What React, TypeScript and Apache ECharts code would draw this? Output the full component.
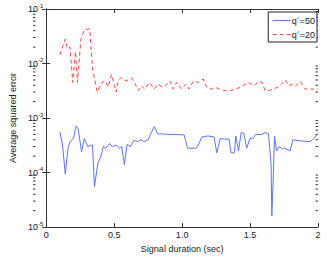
import React, { useEffect, useRef } from "react";
import * as echarts from "echarts";

const q50Durations = [
  0.1, 0.12, 0.14, 0.16, 0.175, 0.2, 0.22, 0.235, 0.26, 0.28, 0.305, 0.33, 0.34, 0.355, 0.38,
  0.4, 0.42, 0.44, 0.465, 0.49, 0.515, 0.54, 0.555, 0.575, 0.595, 0.62, 0.645, 0.67, 0.7, 0.72,
  0.75, 0.77, 0.795, 0.82, 0.865, 0.91, 0.96, 1.015, 1.04, 1.1, 1.115, 1.145, 1.19, 1.235, 1.255,
  1.28, 1.32, 1.345, 1.36, 1.385, 1.395, 1.415, 1.435, 1.455, 1.475, 1.5, 1.525, 1.54, 1.585, 1.61,
  1.635, 1.655, 1.66, 1.67, 1.68, 1.695, 1.715, 1.735, 1.755, 1.795, 1.815, 1.87, 1.94, 1.96, 2.0,
];
const q50Errors = [
  0.00056, 0.00032, 0.000094, 0.00028, 0.00037, 0.00042, 0.00072, 0.00063, 0.00024, 0.00042,
  0.0003, 0.00032, 0.00032, 0.000055, 0.00015, 0.00019, 0.0003, 0.00028, 0.00034, 0.0003,
  0.00032, 0.00028, 0.0003, 0.00014, 0.00033, 0.0003, 0.00039, 0.00037, 0.0004, 0.00037,
  0.0004, 0.00052, 0.0007, 0.00051, 0.00051, 0.0005, 0.0005, 0.00049, 0.00028, 0.00028,
  0.0003, 0.00045, 0.00047, 0.00045, 0.00023, 0.00042, 0.00041, 0.00041, 0.00023, 0.00023,
  0.00047, 0.00025, 0.00055, 0.00052, 0.00028, 0.00042, 0.00043, 0.0005, 0.0005, 0.00054,
  0.00052, 0.00014, 0.000016, 0.000073, 0.00047, 0.00025, 0.0003, 0.00027, 0.00028, 0.00025,
  0.0004, 0.00038, 0.00037, 0.0004, 0.00052,
];
const q20Durations = [
  0.1, 0.14, 0.155, 0.175, 0.195, 0.215, 0.23, 0.255, 0.28, 0.32, 0.34, 0.375, 0.41, 0.435, 0.455,
  0.48, 0.515, 0.53, 0.55, 0.585, 0.63, 0.68, 0.7, 0.725, 0.76, 0.795, 0.82, 0.855, 0.875, 0.91,
  0.935, 0.96, 0.995, 1.03, 1.05, 1.085, 1.12, 1.155, 1.18, 1.215, 1.24, 1.275, 1.31, 1.355, 1.39,
  1.435, 1.485, 1.51, 1.53, 1.565, 1.59, 1.61, 1.645, 1.67, 1.705, 1.73, 1.76, 1.785, 1.81, 1.835,
  1.87, 1.905, 1.95, 2.0,
];
const q20Errors = [
  0.0143, 0.028, 0.0188, 0.02, 0.0045, 0.0166, 0.0045, 0.028, 0.041, 0.0436, 0.0083, 0.003,
  0.0045, 0.0048, 0.0037, 0.0063, 0.003, 0.0049, 0.0055, 0.0048, 0.0054, 0.0032, 0.0039, 0.0034,
  0.0045, 0.0034, 0.0042, 0.0037, 0.0039, 0.0048, 0.0034, 0.0045, 0.0034, 0.0042, 0.0034, 0.0048,
  0.0045, 0.0052, 0.0037, 0.0034, 0.0037, 0.0034, 0.0032, 0.0032, 0.0034, 0.0037, 0.0045, 0.0042,
  0.0039, 0.0047, 0.0045, 0.0032, 0.0032, 0.0034, 0.0037, 0.0042, 0.005, 0.0039, 0.0042, 0.0039,
  0.0047, 0.0034, 0.0034, 0.0034,
];
const seriesNames = ["q\u00B4=50", "q\u00B4=20"];
const xTickValues = [0, 0.5, 1, 1.5, 2];
const xTickLabels = ["0", "0.5", "1.0", "1.5", "2"];
const yMinDecade = -5;
const yMaxDecade = -1;

const FONT = "Liberation Sans, Arial, sans-serif";
const AXIS = "#333333";
const TEXT = "#222222";

export default function App() {
  const ref = useRef<HTMLDivElement>(null);
  useEffect(() => {
    const chart = echarts.init(ref.current!, null, { renderer: "svg" });
    const gridLeft = 33;
    const gridRight = 9;
    const W = 327;
    const baseX = {
      type: "value",
      min: 0,
      max: 2,
      interval: 0.5,
      axisLine: { show: true, lineStyle: { color: AXIS, width: 1 } },
      axisTick: { show: true, inside: true, length: 4, lineStyle: { color: AXIS } },
      splitLine: { show: false },
    };
    const baseY = {
      type: "log",
      logBase: 10,
      min: Math.pow(10, yMinDecade),
      max: Math.pow(10, yMaxDecade),
      axisLine: { show: true, lineStyle: { color: AXIS, width: 1 } },
      axisTick: { show: true, inside: true, length: 4, lineStyle: { color: AXIS } },
      splitLine: { show: false },
    };
    chart.setOption({
      animation: false,
      backgroundColor: "#ffffff",
      textStyle: { fontFamily: FONT },
      grid: { left: gridLeft, right: gridRight, top: 9, bottom: 23 },
      legend: {
        data: seriesNames,
        orient: "vertical",
        right: 10,
        top: 12,
        backgroundColor: "#ffffff",
        borderColor: "#222222",
        borderWidth: 1,
        borderRadius: 0,
        padding: [4, 2, 3, 4],
        itemGap: 5,
        itemWidth: 18,
        itemHeight: 2,
        itemStyle: { color: "rgba(0,0,0,0)", borderColor: "rgba(0,0,0,0)", borderWidth: 0 },
        lineStyle: { width: 1 },
        textStyle: { fontSize: 9, color: TEXT, fontFamily: FONT, padding: [0, 0, 0, -4] },
      },
      xAxis: [
        {
          ...baseX,
          position: "bottom",
          name: "Signal duration (sec)",
          nameLocation: "middle",
          nameGap: 14,
          nameTextStyle: { fontSize: 9, color: TEXT, fontFamily: FONT },
          axisLabel: {
            show: true,
            margin: 3,
            fontSize: 9,
            color: TEXT,
            fontFamily: FONT,
            formatter: (v: number) => {
              const i = xTickValues.findIndex((t) => Math.abs(t - v) < 1e-9);
              return i >= 0 ? xTickLabels[i] : "";
            },
          },
        },
        { ...baseX, position: "top", axisLabel: { show: false } },
      ],
      yAxis: [
        {
          ...baseY,
          position: "left",
          name: "Average squared error",
          nameLocation: "middle",
          nameGap: 21,
          nameTextStyle: { fontSize: 9, color: TEXT, fontFamily: FONT },
          axisLabel: {
            show: true,
            margin: 3,
            color: TEXT,
            fontFamily: FONT,
            formatter: (v: number) => {
              const e = Math.round(Math.log10(v));
              return `{b|10}{s|${e}}`;
            },
            rich: {
              b: { fontSize: 9, color: TEXT, fontFamily: FONT },
              s: { fontSize: 6, color: TEXT, fontFamily: FONT, lineHeight: 6, padding: [0, 0, 7, 0] },
            },
          },
        },
        { ...baseY, position: "right", axisLabel: { show: false } },
      ],
      series: [
        {
          name: seriesNames[0],
          type: "line",
          xAxisIndex: 0,
          yAxisIndex: 0,
          showSymbol: false,
          symbol: "none",
          data: q50Durations.map((d, i) => [d, q50Errors[i]]),
          lineStyle: { color: "#5f74ff", width: 1 },
          itemStyle: { color: "#5f74ff" },
        },
        {
          name: seriesNames[1],
          type: "line",
          xAxisIndex: 0,
          yAxisIndex: 0,
          showSymbol: false,
          symbol: "none",
          data: q20Durations.map((d, i) => [d, q20Errors[i]]),
          lineStyle: { color: "#ff4a4a", width: 1, type: [4, 3] },
          itemStyle: { color: "#ff4a4a" },
        },
      ],
    });

    const plotRight = W - gridRight;
    const minor: any[] = [];
    for (let d = yMinDecade; d < yMaxDecade; d++) {
      for (let k = 2; k <= 9; k++) {
        const y = chart.convertToPixel({ yAxisIndex: 0 }, k * Math.pow(10, d)) as number;
        minor.push({
          type: "line",
          shape: { x1: gridLeft, y1: y, x2: gridLeft + 2.5, y2: y },
          style: { stroke: AXIS, lineWidth: 1 },
          silent: true,
        });
        minor.push({
          type: "line",
          shape: { x1: plotRight, y1: y, x2: plotRight - 2.5, y2: y },
          style: { stroke: AXIS, lineWidth: 1 },
          silent: true,
        });
      }
    }
    chart.setOption({ graphic: minor });
    return () => chart.dispose();
  }, []);
  return (
    <div
      ref={ref}
      style={{ position: "fixed", left: 0, top: 0, width: 327, height: 258, background: "#fff" }}
    />
  );
}
